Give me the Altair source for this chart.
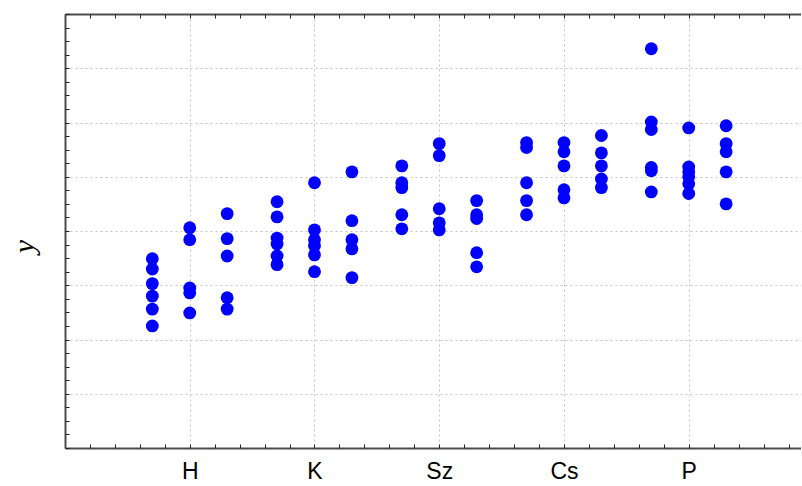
import altair as alt
import pandas as pd

categories = ["H", "K", "Sz", "Cs", "P"]
offsets = [-0.3, 0.0, 0.3]

# y values per category: [left, middle, right] sub-columns
H_vals = [[3.49, 3.30, 3.03, 2.80, 2.56, 2.25],
          [4.06, 3.84, 2.95, 2.86, 2.49],
          [4.32, 3.86, 3.54, 2.77, 2.56]]
K_vals = [[4.54, 4.26, 3.87, 3.76, 3.54, 3.38],
          [4.89, 4.02, 3.84, 3.73, 3.56, 3.25],
          [5.09, 4.19, 3.84, 3.67, 3.14]]
Sz_vals = [[5.20, 4.89, 4.80, 4.30, 4.04],
           [5.61, 5.39, 4.41, 4.15, 4.02],
           [4.56, 4.30, 4.23, 3.60, 3.34]]
Cs_vals = [[5.63, 5.54, 4.89, 4.56, 4.30],
           [5.63, 5.46, 5.20, 4.76, 4.61],
           [5.76, 5.44, 5.20, 4.96, 4.80]]
P_vals = [[7.36, 6.01, 5.87, 5.17, 5.11, 4.72],
          [5.90, 5.18, 5.09, 5.00, 4.87, 4.69],
          [5.94, 5.61, 5.46, 5.09, 4.50]]

all_vals = [H_vals, K_vals, Sz_vals, Cs_vals, P_vals]

x_major = [1, 2, 3, 4, 5]
x_minor = [round(i * 0.2, 1) for i in range(30)]
y_grid = [1, 2, 3, 4, 5, 6, 7]
y_minor = [i * 0.25 for i in range(33)]

rows = []
for ci, groups in enumerate(all_vals):
    for off, vals in zip(offsets, groups):
        for v in vals:
            rows.append({"x": ci + 1 + off, "y": v, "cat": categories[ci]})
df = pd.DataFrame(rows)

xs = alt.Scale(domain=[0, 5.9], nice=False, zero=False)
ys = alt.Scale(domain=[0, 8], nice=False, zero=False)

label_expr = "[''," + ",".join("'%s'" % c for c in categories) + "][datum.value]"

dark = "#4d4d4d"
gridc = "#c4c4c4"

points = alt.Chart(df).mark_circle(size=165, color="#0000ff", opacity=1).encode(
    x=alt.X("x:Q", scale=xs, axis=alt.Axis(
        orient="bottom", values=x_major, labelExpr=label_expr, grid=True,
        gridColor=gridc, gridDash=[2, 3], gridWidth=1, ticks=False,
        domain=True, domainColor=dark, domainWidth=2, title=None,
        labelFont="Liberation Sans", labelFontSize=23, labelColor="#000",
        labelPadding=12)),
    y=alt.Y("y:Q", scale=ys, axis=alt.Axis(
        orient="left", values=y_grid, grid=True, gridColor=gridc,
        gridDash=[2, 3], gridWidth=1, ticks=False, labels=False,
        domain=True, domainColor=dark, domainWidth=2, title="y",
        titleFont="Liberation Serif", titleFontStyle="italic",
        titleFontWeight="normal", titleFontSize=30, titleColor="#000",
        titlePadding=26, titleY=232)),
)

ticks_bl = alt.Chart(df).mark_circle(opacity=0).encode(
    x=alt.X("x:Q", scale=xs, axis=alt.Axis(
        orient="bottom", values=x_minor, labels=False, domain=False,
        grid=False, ticks=True, tickSize=4, offset=-4, tickColor="#222",
        title=None)),
    y=alt.Y("y:Q", scale=ys, axis=alt.Axis(
        orient="left", values=y_minor, labels=False, domain=False,
        grid=False, ticks=True, tickSize=4, offset=-4, tickColor="#222",
        title=None)),
)

top_domain = alt.Chart(df).mark_circle(opacity=0).encode(
    x=alt.X("x:Q", scale=xs, axis=alt.Axis(
        orient="top", labels=False, ticks=False, grid=False, domain=True,
        domainColor=dark, domainWidth=2, title=None)),
    y=alt.Y("y:Q", scale=ys, axis=None),
)

ticks_top = alt.Chart(df).mark_circle(opacity=0).encode(
    x=alt.X("x:Q", scale=xs, axis=alt.Axis(
        orient="top", values=x_minor, labels=False, domain=False,
        grid=False, ticks=True, tickSize=4, offset=-4, tickColor="#222",
        title=None)),
    y=alt.Y("y:Q", scale=ys, axis=None),
)

chart = alt.layer(points, ticks_bl, top_domain, ticks_top).resolve_axis(
    x="independent", y="independent"
).properties(
    width=736, height=434,
    autosize=alt.AutoSizeParams(type="none"),
    padding={"left": 65, "top": 14, "right": 0, "bottom": 38},
    background="white",
).configure_view(stroke="transparent")

chart.save("out.html", embed_options={"renderer": "svg", "actions": False})
